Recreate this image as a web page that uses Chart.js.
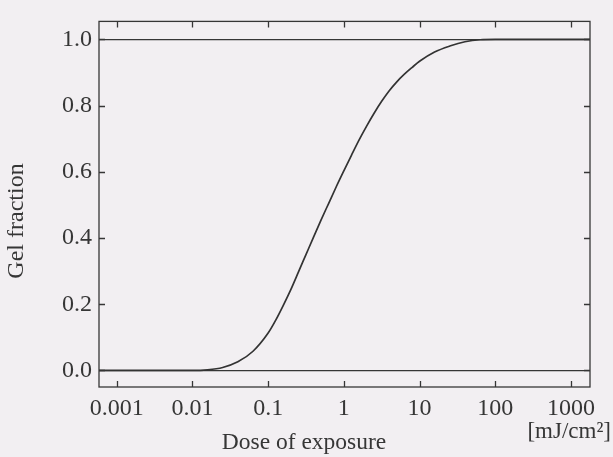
<!DOCTYPE html>
<html>
<head>
<meta charset="utf-8">
<script src="https://cdn.jsdelivr.net/npm/chart.js@4/dist/chart.umd.min.js"></script>
<style>
  html, body { margin: 0; padding: 0; background: #f2eff2; }
  #wrap { width: 613px; height: 457px; }
</style>
</head>
<body>
<div id="wrap"><canvas id="c" width="613" height="457"></canvas></div>
<script>
// ---- data ----
const doses = [0.0005, 0.01, 0.0158, 0.0251, 0.0398, 0.0631, 0.1, 0.126, 0.158, 0.2, 0.251, 0.316, 0.398, 0.501, 0.631, 0.794, 1, 1.26, 1.58, 2.0, 2.51, 3.16, 3.98, 5.01, 6.31, 7.94, 10, 15.8, 25.1, 39.8, 63.1, 100, 2000];
const gelFraction = [0, 0, 0.002, 0.009, 0.026, 0.058, 0.113, 0.152, 0.196, 0.245, 0.297, 0.35, 0.403, 0.455, 0.505, 0.555, 0.603, 0.65, 0.695, 0.738, 0.777, 0.813, 0.845, 0.872, 0.895, 0.915, 0.934, 0.962, 0.98, 0.993, 0.999, 1.0, 1.0];
const xTickValues = [0.001, 0.01, 0.1, 1, 10, 100, 1000];
const xTickLabels = ['0.001', '0.01', '0.1', '1', '10', '100', '1000'];
const yTickValues = [0, 0.2, 0.4, 0.6, 0.8, 1.0];
const yTickLabels = ['0.0', '0.2', '0.4', '0.6', '0.8', '1.0'];
const xTitle = 'Dose of exposure';
const yTitle = 'Gel fraction';
const unitLabel = '[mJ/cm²]';

const FONT = '"Liberation Serif", "DejaVu Serif", serif';
const INK = '#363636';

const framePlugin = {
  id: 'frame',
  afterDraw(chart) {
    const { ctx, chartArea: a, scales } = chart;
    const xs = scales.x, ys = scales.y;
    ctx.save();
    ctx.strokeStyle = INK;
    ctx.lineWidth = 1.3;
    ctx.strokeRect(a.left, a.top, a.right - a.left, a.bottom - a.top);
    const tl = 6;
    ctx.beginPath();
    xTickValues.forEach(v => {
      const px = Math.round(xs.getPixelForValue(v)) + 0.5;
      ctx.moveTo(px, a.bottom); ctx.lineTo(px, a.bottom - tl);
      ctx.moveTo(px, a.top); ctx.lineTo(px, a.top + tl);
    });
    yTickValues.forEach(v => {
      const py = Math.round(ys.getPixelForValue(v)) + 0.5;
      ctx.moveTo(a.left, py); ctx.lineTo(a.left + tl, py);
      ctx.moveTo(a.right, py); ctx.lineTo(a.right - tl, py);
    });
    ctx.stroke();
    // titles
    ctx.fillStyle = INK;
    ctx.textBaseline = 'middle';
    ctx.font = '23.5px ' + FONT;
    ctx.textAlign = 'center';
    ctx.fillText(xTitle, 304, 443);
    ctx.font = '23px ' + FONT;
    ctx.textAlign = 'right';
    ctx.fillText(unitLabel, 611, 432);
    ctx.font = '24px ' + FONT;
    ctx.translate(17, 221);
    ctx.rotate(-Math.PI / 2);
    ctx.textAlign = 'center';
    ctx.fillText(yTitle, 0, 0);
    ctx.restore();
  }
};

new Chart(document.getElementById('c'), {
  type: 'line',
  data: {
    datasets: [{
      data: doses.map((d, i) => ({ x: d, y: gelFraction[i] })),
      borderColor: '#333',
      borderWidth: 1.7,
      pointRadius: 0,
      cubicInterpolationMode: 'monotone',
      fill: false
    }]
  },
  options: {
    responsive: false,
    devicePixelRatio: 1,
    animation: false,
    layout: { padding: { top: 12, right: 23, left: 0, bottom: 0 } },
    plugins: { legend: { display: false }, tooltip: { enabled: false } },
    scales: {
      x: {
        type: 'logarithmic',
        min: 0.000583,
        max: 1786,
        afterBuildTicks: s => { s.ticks = xTickValues.map(v => ({ value: v })); },
        afterFit: s => { s.height = 70; },
        ticks: {
          autoSkip: false,
          maxRotation: 0,
          padding: 7,
          color: INK,
          font: { family: FONT, size: 24 },
          callback: (v) => { const i = xTickValues.indexOf(v); return i >= 0 ? xTickLabels[i] : ''; }
        },
        grid: { display: false, drawTicks: false },
        border: { display: false }
      },
      y: {
        type: 'linear',
        min: -0.05,
        max: 1.0545,
        afterBuildTicks: s => { s.ticks = yTickValues.map(v => ({ value: v })); },
        afterFit: s => { s.width = 99; },
        ticks: {
          padding: 7,
          color: INK,
          font: { family: FONT, size: 24 },
          callback: (v) => { const i = yTickValues.findIndex(t => Math.abs(t - v) < 1e-9); return i >= 0 ? yTickLabels[i] : ''; }
        },
        grid: {
          drawTicks: false,
          lineWidth: 1.3,
          color: c => (c.tick && (Math.abs(c.tick.value) < 1e-9 || Math.abs(c.tick.value - 1) < 1e-9)) ? INK : 'rgba(0,0,0,0)'
        },
        border: { display: false }
      }
    }
  },
  plugins: [framePlugin]
});
</script>
</body>
</html>
